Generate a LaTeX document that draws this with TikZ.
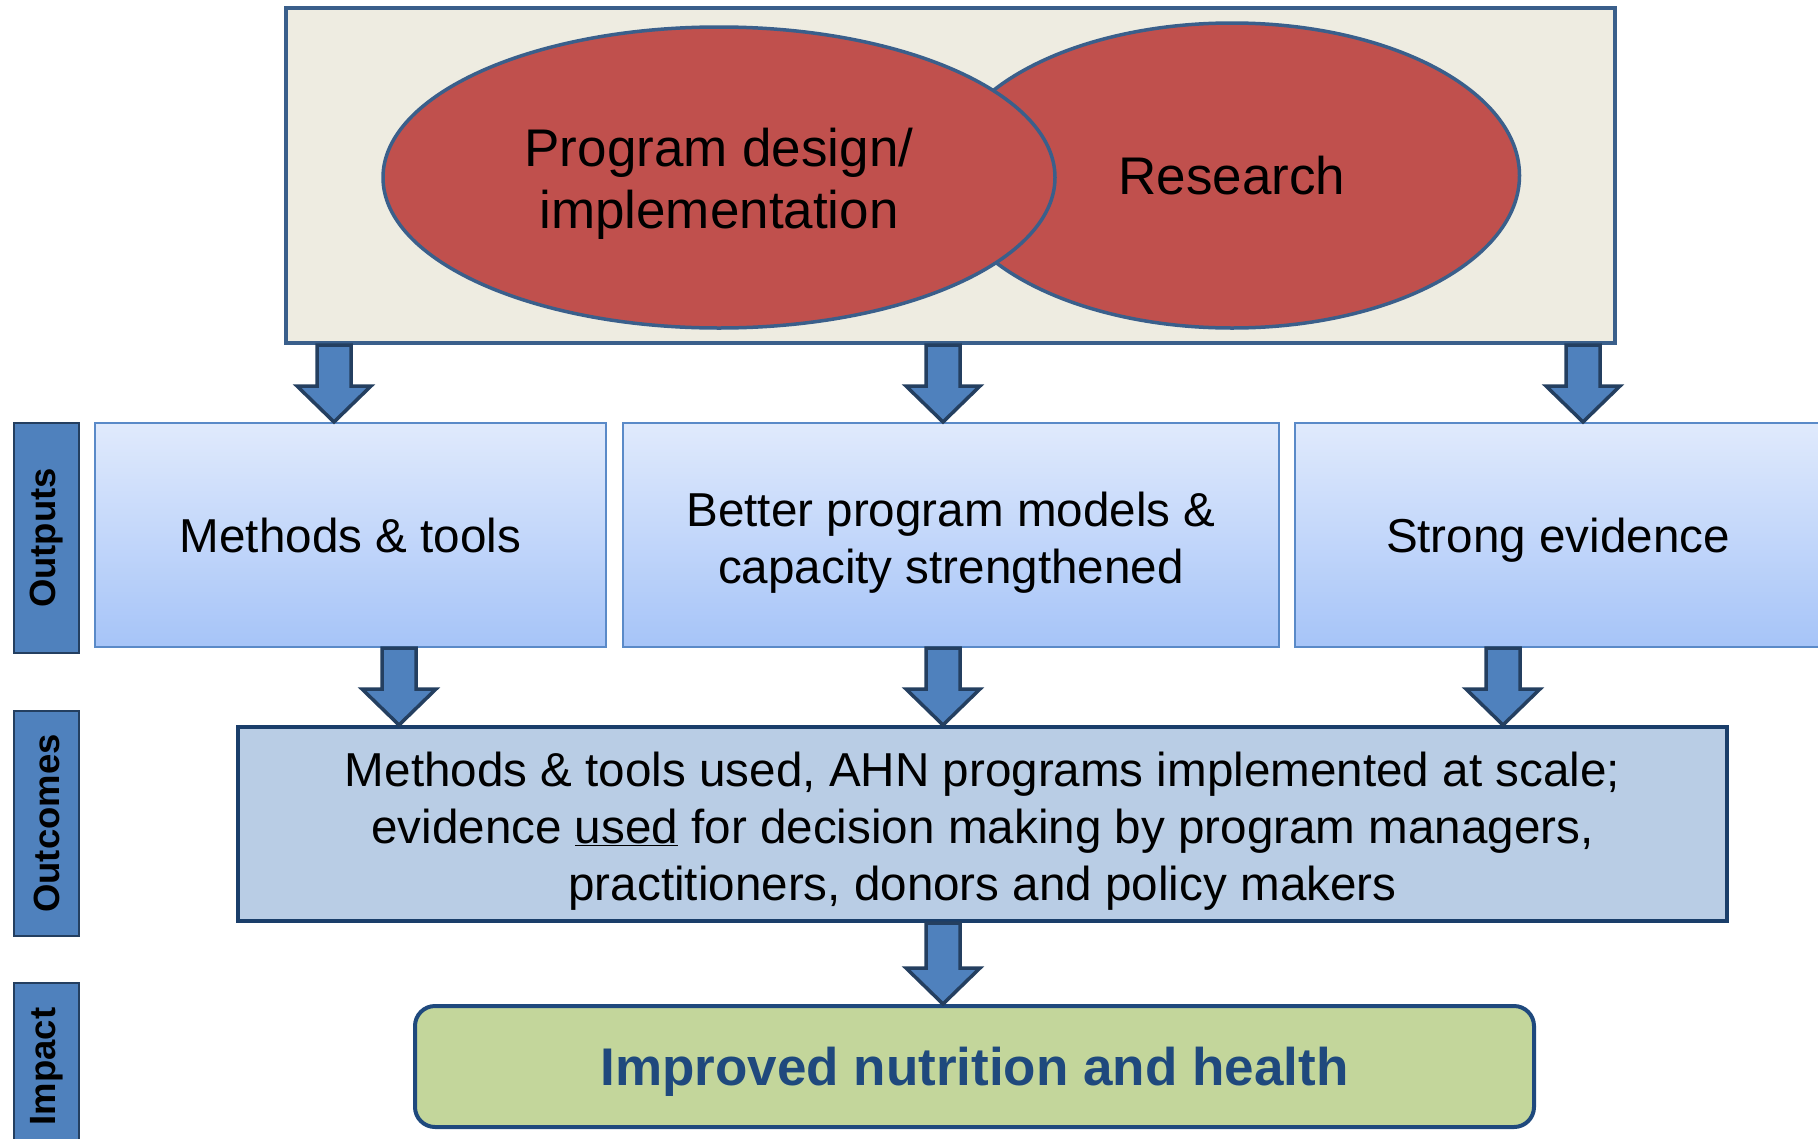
\documentclass[tikz,border=0pt]{standalone}
\usepackage{fontspec}
\setmainfont{Liberation Sans}
\usetikzlibrary{shapes.geometric,calc}

\definecolor{boxbeige}{RGB}{238,236,225}
\definecolor{framecol}{RGB}{58,95,139}
\definecolor{ovalred}{RGB}{192,80,77}
\definecolor{arrowfill}{RGB}{79,129,189}
\definecolor{arrowline}{RGB}{36,63,96}
\definecolor{lighttop}{RGB}{224,234,252}
\definecolor{lightbot}{RGB}{166,196,248}
\definecolor{lightline}{RGB}{90,138,200}
\definecolor{outfill}{RGB}{185,205,229}
\definecolor{impfill}{RGB}{195,214,155}
\definecolor{impline}{RGB}{31,73,125}

% fat block arrow: x position, from node, to node
\newcommand{\fatarrow}[3]{%
\draw[fat] ($(#1,0 |- #2.south)+(-17,0)$) -- ($(#1,0 |- #3.north)+(-17,-36)$) -- ++(-20,0)
  -- (#1,0 |- #3.north) -- ($(#1,0 |- #3.north)+(37,-36)$) -- ++(-20,0)
  -- ($(#1,0 |- #2.south)+(17,0)$) -- cycle;}

\begin{document}
\begin{tikzpicture}[x=1pt,y=-1pt]
\tikzstyle{beige}=[rectangle,draw=framecol,fill=boxbeige,line width=4pt,inner sep=0pt]
\tikzstyle{redoval}=[ellipse,draw=framecol,fill=ovalred,line width=3.5pt,inner sep=0pt,align=center,font=\fontsize{53}{62.6}\selectfont]
\tikzstyle{light}=[rectangle,draw=lightline,top color=lighttop,bottom color=lightbot,line width=2pt,minimum height=224pt,inner sep=0pt,align=center,font=\fontsize{47.6}{57}\selectfont]
\tikzstyle{steel}=[rectangle,draw=arrowline,fill=arrowfill,line width=2.5pt,minimum height=65pt,inner sep=0pt,rotate=90,font=\fontsize{36.5}{40}\selectfont\bfseries]
\tikzstyle{outcome}=[rectangle,draw=impline!85!black,fill=outfill,line width=4pt,inner sep=0pt,align=center,font=\fontsize{47.6}{57.4}\selectfont]
\tikzstyle{green}=[rectangle,rounded corners=20pt,draw=impline,fill=impfill,line width=4pt,inner sep=0pt,text=impline,font=\fontsize{53}{60}\selectfont\bfseries]
\tikzstyle{fat}=[draw=arrowline,fill=arrowfill,line width=3.5pt,line join=miter]
\useasboundingbox (0,0) rectangle (1818,1138);
\node[beige,minimum width=1329pt,minimum height=335pt] (T) at (950.5,175.5) {};
\node[redoval,minimum width=575pt,minimum height=305pt] (R) at (1232,175.5) {Research};
\node[redoval,minimum width=672pt,minimum height=301pt] (P) at (719,177.5) {\rule{0pt}{51pt}Program design/\\implementation};
\node[light,minimum width=511pt,text height=35pt,text depth=1pt] (O_1) at (350.5,535) {Methods \& tools};
\node[light,minimum width=656pt] (O_2) at (951,535) {\rule{0pt}{49pt}Better program models \&\\capacity strengthened};
\node[light,minimum width=526pt,text height=35pt,text depth=1pt] (O_3) at (1558,535) {Strong evidence};
\node[steel,minimum width=230pt] (L_1) at (46.5,538) {Outputs};
\node[steel,minimum width=225pt] (L_2) at (46.5,823.5) {Outcomes};
\node[steel,minimum width=167pt] (L_3) at (46.5,1066.5) {Impact};
\node[outcome,minimum width=1489pt,minimum height=194pt] (C) at (982.5,824) {\rule{0pt}{49pt}Methods \& tools used, AHN programs implemented at scale;\\evidence \underline{used} for decision making by program managers,\\practitioners, donors and policy makers};
\node[green,minimum width=1119pt,minimum height=121pt,text height=38pt,text depth=1pt] (I) at (974.5,1066.5) {Improved nutrition and health};
\fatarrow{334}{T}{O_1}
\fatarrow{943}{T}{O_2}
\fatarrow{1583}{T}{O_3}
\fatarrow{399}{O_1}{C}
\fatarrow{943}{O_2}{C}
\fatarrow{1503}{O_3}{C}
\fatarrow{943}{C}{I}
\end{tikzpicture}
\end{document}
